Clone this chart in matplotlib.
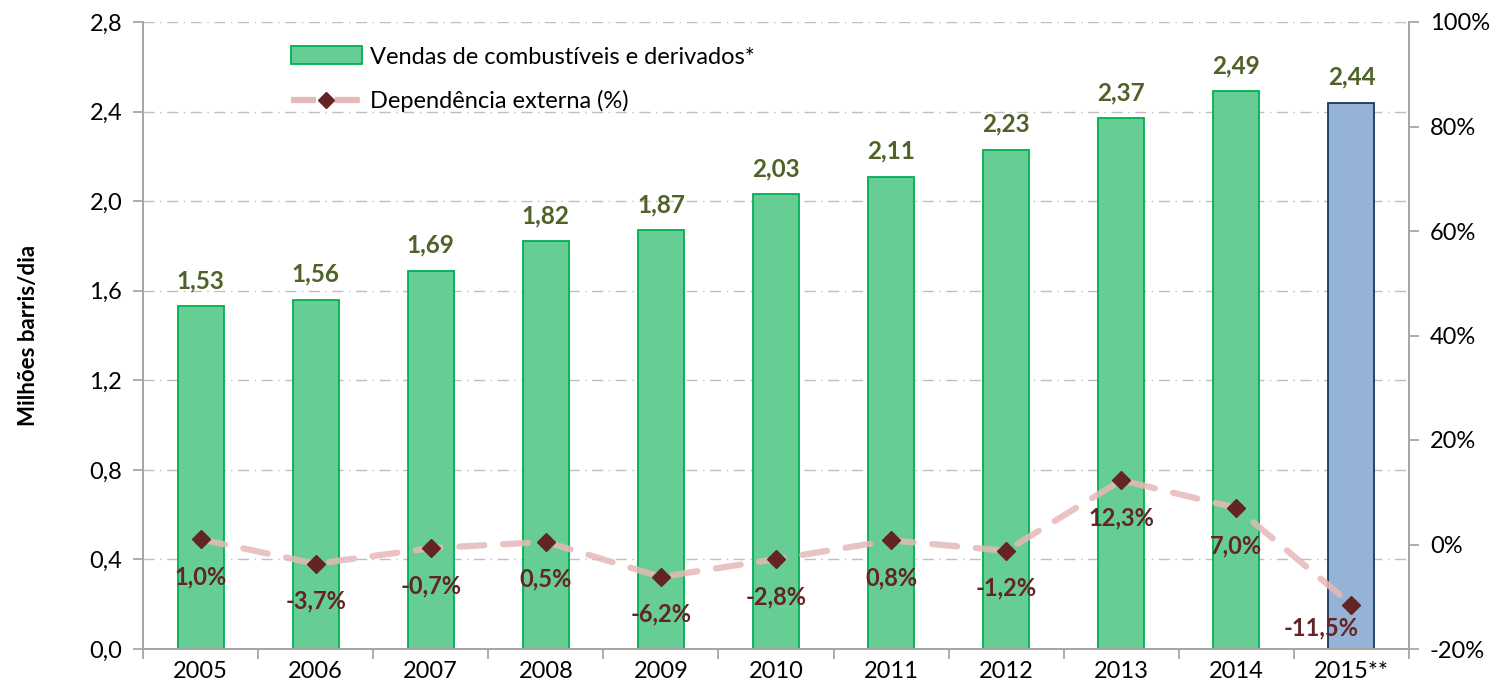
import numpy as np
import matplotlib
matplotlib.use("Agg")
import matplotlib.pyplot as plt
from matplotlib.patches import Patch
from matplotlib.lines import Line2D
from matplotlib.ticker import FuncFormatter

plt.rcParams['font.family'] = ['Lato', 'DejaVu Sans']

anos = ["2005", "2006", "2007", "2008", "2009", "2010", "2011", "2012", "2013", "2014", "2015**"]
vendas = [1.53, 1.56, 1.69, 1.82, 1.87, 2.03, 2.11, 2.23, 2.37, 2.49, 2.44]
dependencia = [1.0, -3.7, -0.7, 0.5, -6.2, -2.8, 0.8, -1.2, 12.3, 7.0, -11.5]

VERDE = "#66CD94"
VERDE_BORDA = "#00B050"
AZUL = "#95B3D7"
AZUL_BORDA = "#17375E"
VINHO = "#632423"
ROSA = "#E6B9B8"
CINZA = "#A6A6A6"

fig = plt.figure(figsize=(14.96, 6.93), dpi=100)
ax = fig.add_axes([143 / 1496, 44 / 693, 1266 / 1496, 627 / 693])
ax2 = ax.twinx()

x = np.arange(len(anos))
cores = [VERDE] * (len(anos) - 1) + [AZUL]
bordas = [VERDE_BORDA] * (len(anos) - 1) + [AZUL_BORDA]
ax.bar(x, vendas, width=0.4, color=cores, edgecolor=bordas, linewidth=1.3, zorder=2)

# rótulos das barras
for xi, v in zip(x, vendas):
    ax.annotate(f"{v:.2f}".replace(".", ","), (xi, v), xytext=(0, 10), textcoords="offset points",
                ha="center", va="bottom", fontsize=17.5, fontweight="bold", color="#4F6228")

ax.set_xlim(-0.5, len(anos) - 0.5)
ax.set_ylim(0, 2.8)
ax.set_yticks(np.arange(0, 2.81, 0.4))
ax.yaxis.set_major_formatter(FuncFormatter(lambda v, p: f"{v:.1f}".replace(".", ",")))
ax.set_xticks(x)
ax.set_xticklabels(anos)
ax.set_xticks(np.arange(-0.5, len(anos), 1), minor=True)
ax.tick_params(axis="x", which="major", length=0, labelsize=17, pad=9)
ax.tick_params(axis="x", which="minor", length=7, color=CINZA, width=1.3)
ax.tick_params(axis="y", labelsize=17, length=7, color=CINZA, width=1.3, pad=8)
ax.grid(axis="y", color="#BFBFBF", linestyle=(0, (8, 4, 1, 4)), linewidth=1, zorder=0)
ax.set_axisbelow(True)
ax.set_ylabel("Milhões barris/dia", fontsize=16, fontweight="bold", labelpad=36)

# dependência externa no eixo secundário
ax2.plot(x, dependencia, color=ROSA, linewidth=4.5, linestyle=(0, (4, 3)), alpha=0.85,
         solid_capstyle="round", dash_capstyle="round", zorder=3)
ax2.plot(x, dependencia, linestyle="none", marker="D", markersize=9, color=VINHO, zorder=4)
ax2.set_ylim(-20, 100)
ax2.set_yticks(np.arange(-20, 101, 20))
ax2.yaxis.set_major_formatter(FuncFormatter(lambda v, p: f"{v:.0f}%"))
ax2.tick_params(axis="y", labelsize=17, length=7, color=CINZA, width=1.3, pad=8)

for i, (xi, d) in enumerate(zip(x, dependencia)):
    dx, dy = (0, -27) if i < len(anos) - 1 else (-22, -17)
    ax2.annotate(f"{d:.1f}%".replace(".", ","), (xi, d), xytext=(dx, dy), textcoords="offset points",
                 ha="center", va="center", fontsize=17, fontweight="bold", color=VINHO, zorder=5)

for a in (ax, ax2):
    a.spines["top"].set_visible(False)
    for s in ("left", "right", "bottom"):
        a.spines[s].set_color(CINZA)
        a.spines[s].set_linewidth(1.3)

handles = [Patch(facecolor=VERDE, edgecolor=VERDE_BORDA, linewidth=1.3),
           Line2D([0], [0], color=ROSA, linewidth=4.5, linestyle=(0, (4, 3)), marker="D",
                  markersize=8, markerfacecolor=VINHO, markeredgecolor=VINHO)]
ax2.legend(handles, ["Vendas de combustíveis e derivados*", "Dependência externa (%)"],
           loc="upper left", bbox_to_anchor=(0.1, 0.995), frameon=False, fontsize=17,
           handlelength=3.0, handleheight=0.8, labelspacing=0.95, handletextpad=0.35)

fig.savefig("out.png", dpi=100)
